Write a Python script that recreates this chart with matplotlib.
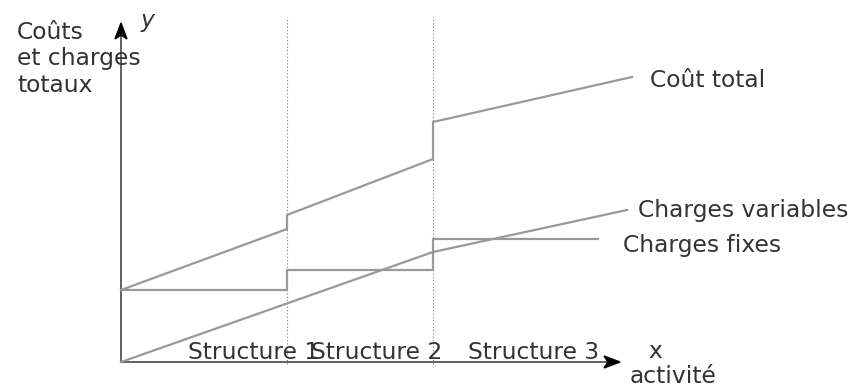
import matplotlib.pyplot as plt
from matplotlib.patches import Polygon

# Schematic data (activity units on x, cost units on y)
activity_total = [0, 166, 166, 312, 312, 511]
cost_total = [72, 133, 147, 203, 240, 285]

activity_fixed = [0, 166, 166, 312, 312, 477]
cost_fixed = [72, 72, 92, 92, 123, 123]

activity_var = [0, 312, 506]
cost_var = [0, 110, 152]

structure_bounds = [166, 312]
structure_labels = ["Structure 1", "Structure 2", "Structure 3"]

LINE_COLOR = "#999999"
TEXT_COLOR = "#333333"
FS = 16.8

fig = plt.figure(figsize=(8.56, 3.92), dpi=100)
ax = fig.add_axes([0, 0, 1, 1])
# one data unit = one pixel, origin of the chart at pixel (121, 362)
ax.set_xlim(-121, 856 - 121)
ax.set_ylim(362 - 392, 362)
ax.axis("off")

# structure boundaries
for b in structure_bounds:
    ax.plot([b, b], [-2, 345], color="#777777", lw=0.8, ls=(0, (1, 2)), zorder=1)

# axes with arrows
ax.plot([0, 0], [0, 326], color="#555555", lw=1.3, zorder=2)
ax.plot([0, 486], [0, 0], color="#555555", lw=1.3, zorder=2)


def arrow_head(tip_x, tip_y, dx, dy, length=16, half_w=6, notch=4):
    # dx, dy: unit direction of the arrow
    px, py = -dy, dx
    bx, by = tip_x - dx * length, tip_y - dy * length
    nx, ny = tip_x - dx * (length - notch), tip_y - dy * (length - notch)
    pts = [(tip_x, tip_y),
           (bx + px * half_w, by + py * half_w),
           (nx, ny),
           (bx - px * half_w, by - py * half_w)]
    ax.add_patch(Polygon(pts, closed=True, color="black", zorder=3))


arrow_head(0, 339, 0, 1)
arrow_head(499, 0, 1, 0)

# curves
ax.plot(activity_total, cost_total, color=LINE_COLOR, lw=1.6, zorder=4)
ax.plot(activity_fixed, cost_fixed, color=LINE_COLOR, lw=1.6, zorder=4)
ax.plot(activity_var, cost_var, color=LINE_COLOR, lw=1.6, zorder=4)

txt = dict(color=TEXT_COLOR, fontsize=FS, ha="left", va="baseline", zorder=5)

# multi-line text: baseline refers to the last line
ax.text(17 - 121, 362 - 92, "Coûts\net charges\ntotaux", linespacing=1.2, **txt)
ax.text(141 - 121, 362 - 27, "y", style="italic", **txt)

ax.text(650 - 121, 362 - 87, "Coût total", **txt)
ax.text(638 - 121, 362 - 217, "Charges variables", **txt)
ax.text(623 - 121, 362 - 252, "Charges fixes", **txt)

for lbl, left in zip(structure_labels, [188, 311, 468]):
    ax.text(left - 121, 362 - 359, lbl, **txt)

ax.text(648 - 121, 362 - 358, "x", **txt)
ax.text(630 - 121, 362 - 383, "activité", **txt)

fig.savefig("out.png", dpi=100)
